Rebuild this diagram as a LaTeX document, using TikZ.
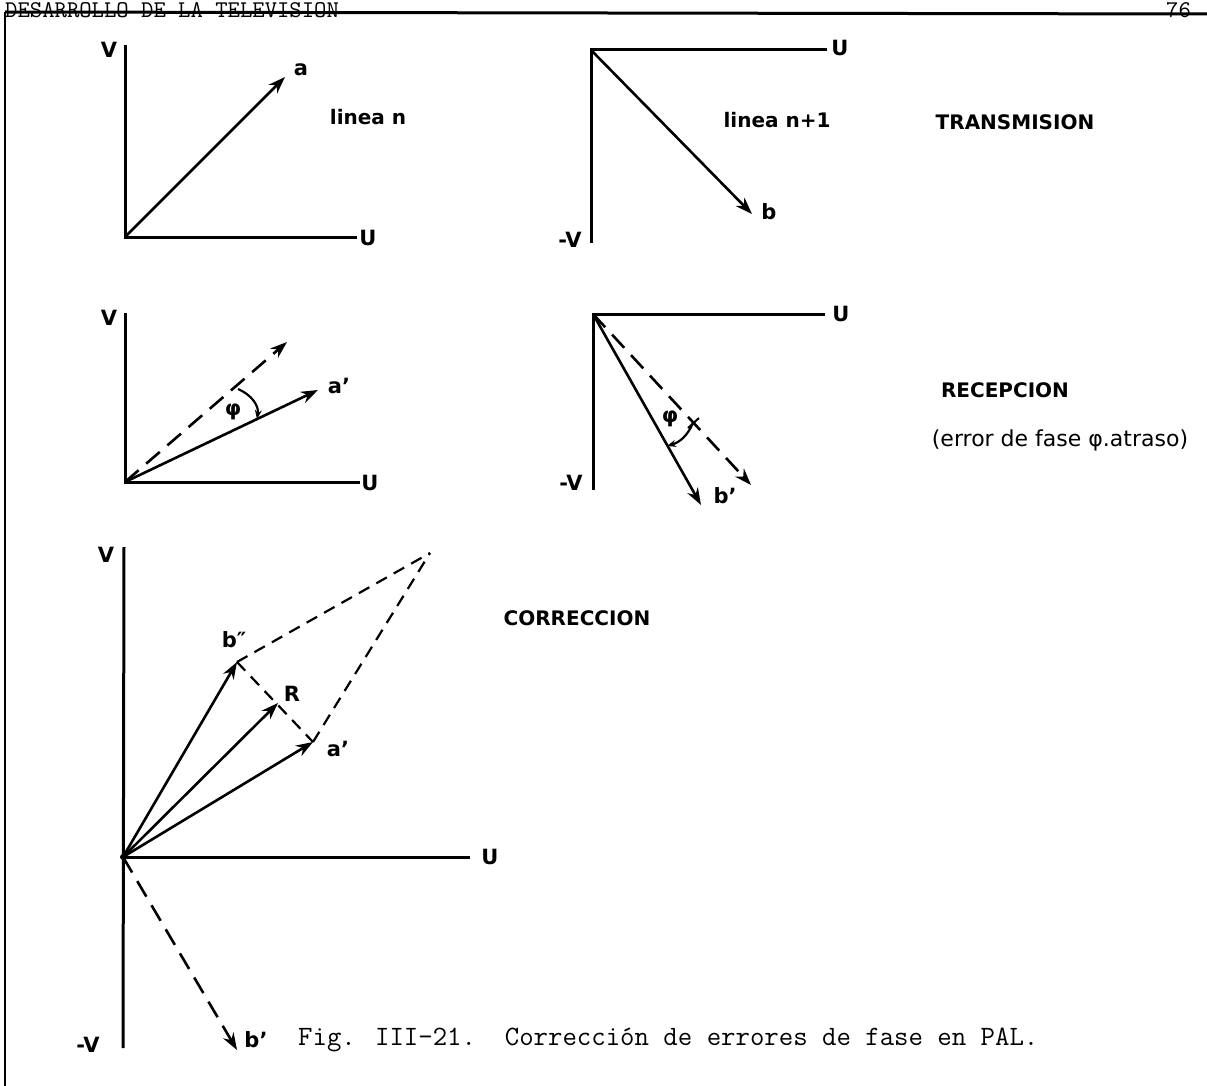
\documentclass[tikz,border=0pt]{standalone}
\usepackage{fontspec}
\newfontfamily\hand{DejaVu Sans}
\usetikzlibrary{arrows.meta}
\begin{document}
\begin{tikzpicture}[x=1pt,y=-1pt,
  axis/.style={line width=3pt},
  vec/.style={line width=2.6pt,-{Stealth[length=17pt,width=12pt]}},
  dvec/.style={vec,dash pattern=on 18pt off 10pt},
  dline/.style={line width=2.2pt,dash pattern=on 12pt off 8pt},
  arcarrow/.style={line width=2.2pt,-{Stealth[length=9pt,width=7pt]}},
  lab/.style={font=\hand\bfseries\fontsize{21}{25}\selectfont, inner sep=0pt},
  ttl/.style={font=\hand\bfseries\fontsize{20}{24}\selectfont, inner sep=0pt},
  tt/.style={font=\ttfamily\fontsize{28}{32}\selectfont, inner sep=0pt}]
\useasboundingbox (0,0) rectangle (1207,1086);
\fill[white] (0,0) rectangle (1207,1086);

% header
\node[tt, anchor=base west, font=\ttfamily\fontsize{24}{28}\selectfont] (hdr) at (5,18) {DESARROLLO DE LA TELEVISION};
\node[tt, anchor=base west, font=\ttfamily\fontsize{24}{28}\selectfont] (pg) at (1166,18) {76};
\coordinate (tl) at (5,12);
\coordinate (tr) at (1207,14);
\coordinate (bl) at (5,1086);
\draw[line width=3pt] (tl) -- (tr);
\draw[line width=2pt] (tl) -- (bl);

% diagram 1: linea n
\coordinate (o1) at (125,237);
\coordinate (v1) at (125,45);
\coordinate (u1) at (357,237);
\coordinate (a1) at (285,77);
\draw[axis] (v1) -- (o1) -- (u1);
\draw[vec] (o1) -- (a1);
\node[lab] (lv1) at (109,50) {V};
\node[lab] (lu1) at (368,238) {U};
\node[lab] (la1) at (301,70) {a};
\node[ttl] (ln1) at (368,117) {linea n};

% diagram 2: linea n+1
\coordinate (o2) at (591,50);
\coordinate (u2) at (827,50);
\coordinate (v2) at (591,243);
\coordinate (b2) at (752,214);
\draw[axis] (u2) -- (o2) -- (v2);
\draw[vec] (o2) -- (b2);
\node[lab] (lu2) at (840,48) {U};
\node[lab] (lv2) at (570,240) {-V};
\node[lab] (lb2) at (769,212) {b};
\node[ttl] (ln2) at (777,120) {linea n+1};
\node[ttl] (trans) at (1015,122) {TRANSMISION};

% diagram 3: received a'
\coordinate (o3) at (125,482);
\coordinate (v3) at (125,313);
\coordinate (u3) at (360,482);
\coordinate (d3) at (287,342);
\coordinate (a3) at (318,390);
\coordinate (p3s) at (238,389);
\coordinate (p3e) at (257,419);
\draw[axis] (v3) -- (o3) -- (u3);
\draw[dvec] (o3) -- (d3);
\draw[vec] (o3) -- (a3);
\draw[arcarrow] (p3s) .. controls (252,395) and (259,406) .. (p3e);
\node[lab] (lv3) at (109,318) {V};
\node[lab] (lu3) at (370,483) {U};
\node[lab] (la3) at (339,386) {a’};
\node[lab] (lphi3) at (233,412) {φ};

% diagram 4: received b'
\coordinate (o4) at (593,314);
\coordinate (u4) at (825,314);
\coordinate (v4) at (593,490);
\coordinate (d4) at (751,485);
\coordinate (b4) at (701,505);
\coordinate (t4a) at (688,428);
\coordinate (t4b) at (699,418);
\coordinate (p4s) at (693,423);
\coordinate (p4e) at (667,446);
\draw[axis] (u4) -- (o4) -- (v4);
\draw[dvec] (o4) -- (d4);
\draw[vec] (o4) -- (b4);
\draw[line width=2pt] (t4a) -- (t4b);
\draw[arcarrow] (p4s) to[bend left=25] (p4e);
\node[lab] (lu4) at (841,314) {U};
\node[lab] (lv4) at (571,483) {-V};
\node[lab] (lb4) at (725,496) {b’};
\node[lab] (lphi4) at (670,419) {φ};
\node[ttl] (recep) at (1005,390) {RECEPCION};
\node[ttl, font=\hand\fontsize{22}{26}\selectfont] (err) at (1060,440) {(error de fase φ.atraso)};

% diagram 5: correction
\coordinate (o5) at (123,857);
\coordinate (v5t) at (124,547);
\coordinate (v5b) at (123,1048);
\coordinate (u5) at (470,857);
\coordinate (bb5) at (237,662);
\coordinate (r5) at (278,703);
\coordinate (a5) at (313,742);
\coordinate (top5) at (430,553);
\coordinate (bp5) at (237,1050);
\draw[axis] (v5t) -- (v5b);
\draw[axis] (o5) -- (u5);
\fill (o5) circle (3pt);
\draw[vec] (o5) -- (bb5);
\draw[vec] (o5) -- (r5);
\draw[vec] (o5) -- (a5);
\draw[dline] (bb5) -- (top5);
\draw[dline] (a5) -- (top5);
\draw[dline] (bb5) -- (a5);
\draw[dvec] (o5) -- (bp5);
\node[lab] (lv5) at (106,555) {V};
\node[lab] (lu5) at (490,857) {U};
\node[lab] (lvm5) at (88,1045) {-V};
\node[lab] (lbb5) at (234,640) {b″};
\node[lab] (lr5) at (292,694) {R};
\node[lab] (la5) at (338,749) {a’};
\node[lab] (lbp5) at (256,1040) {b’};
\node[ttl] (corr) at (577,618) {CORRECCION};

% caption
\node[tt, anchor=west] (cap) at (298,1040) {Fig. III-21.\ \ Corrección de errores de fase en PAL.};
\end{tikzpicture}
\end{document}
